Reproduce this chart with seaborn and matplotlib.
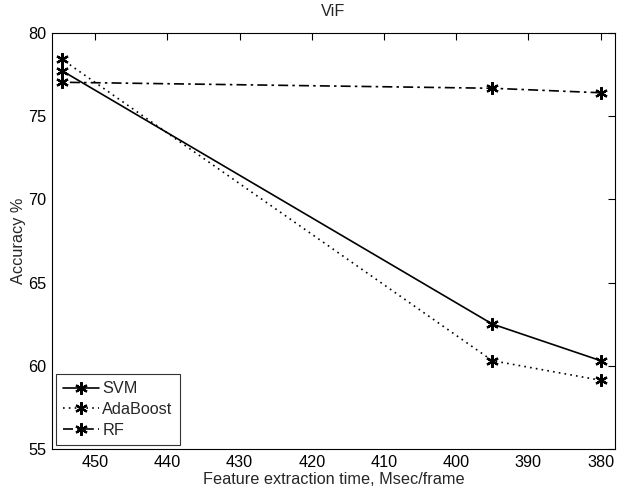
import matplotlib
matplotlib.use("Agg")
import matplotlib.pyplot as plt
import pandas as pd
import seaborn as sns

# data
times = [454.6, 395, 380]
svm = [77.73, 62.51, 60.31]
adaboost = [78.42, 60.31, 59.13]
rf = [77.04, 76.68, 76.41]
models = ["SVM", "AdaBoost", "RF"]

df = pd.DataFrame({
    "time": times * 3,
    "acc": svm + adaboost + rf,
    "model": [m for m in models for _ in times],
})

sns.set_style("white")
plt.rcParams["font.family"] = ["Liberation Sans", "DejaVu Sans"]

fig = plt.figure(figsize=(6.25, 4.98), dpi=100)
ax = fig.add_axes([0.0832, 0.0984, 0.9008, 0.8353])

sns.lineplot(
    data=df, x="time", y="acc", hue="model", style="model",
    palette={m: "black" for m in models},
    dashes={"SVM": "", "AdaBoost": (1, 2.5), "RF": (6, 2.5, 1.5, 2.5)},
    markers={m: (6, 2, 0) for m in models},
    markersize=9, markeredgewidth=1.6, markeredgecolor="black",
    linewidth=1.2, ax=ax,
)

ax.set_xlim(456, 378)
ax.set_ylim(55, 80)
ax.set_xticks([450, 440, 430, 420, 410, 400, 390, 380])
ax.set_yticks([55, 60, 65, 70, 75, 80])
ax.tick_params(direction="in", length=5, width=0.8, top=True, right=True,
               labelsize=11.7, colors="black", pad=4)
for s in ax.spines.values():
    s.set_color("black")
    s.set_linewidth(0.8)
ax.set_xlabel("Feature extraction time, Msec/frame", fontsize=11.7, labelpad=2)
ax.set_ylabel("Accuracy %", fontsize=11.7, labelpad=2)
ax.set_title("ViF", fontsize=11.7, pad=12)

leg = ax.legend(loc="lower left", fontsize=11.7, frameon=True, fancybox=False,
                borderaxespad=0.25, handlelength=2.2, labelspacing=0.35,
                borderpad=0.45, handletextpad=0.2)
leg.get_frame().set_edgecolor("black")
leg.get_frame().set_linewidth(0.8)

fig.savefig("out.png", dpi=100)
